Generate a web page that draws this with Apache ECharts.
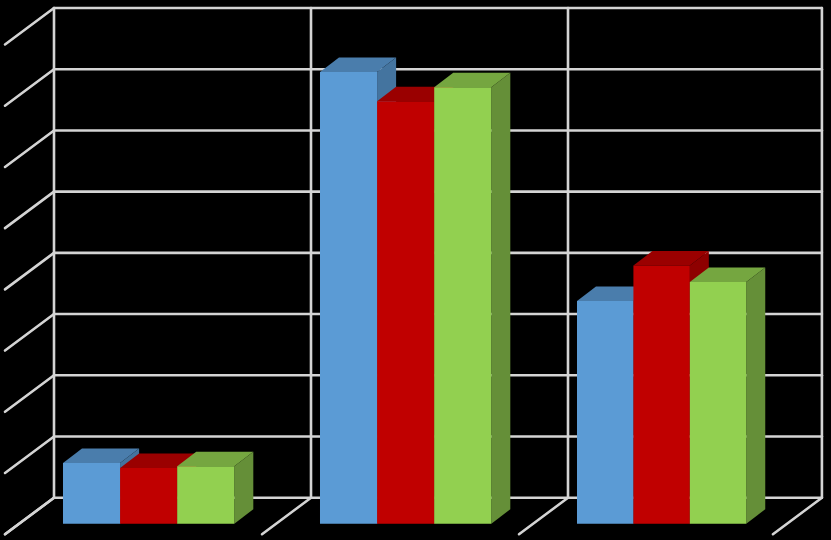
<!DOCTYPE html>
<html>
<head>
<meta charset="utf-8">
<style>html,body{margin:0;padding:0;background:#000}#c{width:831px;height:540px}</style>
<script src="https://cdn.jsdelivr.net/npm/echarts@6/dist/echarts.min.js"></script>
</head>
<body>
<div id="c"></div>
<script>
var categories = ['A', 'B', 'C'];
var boundaries = [0, 1, 2, 2.988];
var tickValues = [0, 10, 20, 30, 40, 50, 60, 70, 80];
var seriesA = [9.9, 73.8, 36.4];
var seriesB = [9.1, 69.0, 42.2];
var seriesC = [9.4, 71.3, 39.5];

var LINE = '#d4d4d4';
var LINE_W = 2.6;
var DEPTH_DX = 19, DEPTH_DY = -14.5, FRONT_DY = 26;
var WALL_DX = -49, WALL_DY = 36.5;

function barRenderer(slot, front, top, side) {
  return function (params, api) {
    var band = api.size([1, 0])[0];
    var i = api.value(0);
    var w = band * 0.2222 * (boundaries[i + 1] - boundaries[i]);
    var c0 = api.coord([i, 0]);
    var c1 = api.coord([i, api.value(1)]);
    var x0 = boundaryX(api, boundaries[i]) + band * 0.035 + slot * w;
    var x1 = x0 + w;
    var yb = c0[1] + FRONT_DY;
    var yt = c1[1] + FRONT_DY;
    function poly(points, color) {
      return { type: 'polygon', shape: { points: points }, style: { fill: color }, silent: true };
    }
    return {
      type: 'group',
      children: [
        poly([[x0, yt], [x1, yt], [x1 + DEPTH_DX, yt + DEPTH_DY], [x0 + DEPTH_DX, yt + DEPTH_DY]], top),
        poly([[x1, yt], [x1 + DEPTH_DX, yt + DEPTH_DY], [x1 + DEPTH_DX, yb + DEPTH_DY], [x1, yb]], side),
        poly([[x0, yt], [x1, yt], [x1, yb], [x0, yb]], front)
      ]
    };
  };
}

function seg(x1, y1, x2, y2) {
  return {
    type: 'line',
    shape: { x1: x1, y1: y1, x2: x2, y2: y2 },
    style: { stroke: LINE, lineWidth: LINE_W, lineCap: 'round' },
    silent: true
  };
}

function boundaryX(api, b) {
  var band = api.size([1, 0])[0];
  return api.coord([0, 0])[0] - band / 2 + b * band;
}

function wallRenderer(params, api) {
  var y = api.coord([0, api.value(0)])[1];
  var xl = boundaryX(api, boundaries[0]);
  var xr = boundaryX(api, boundaries[boundaries.length - 1]);
  return { type: 'group', children: [seg(xl, y, xr, y), seg(xl, y, xl + WALL_DX, y + WALL_DY)] };
}

function floorRenderer(params, api) {
  var x = boundaryX(api, api.value(0));
  var yb = api.coord([0, tickValues[0]])[1];
  var yt = api.coord([0, tickValues[tickValues.length - 1]])[1];
  return { type: 'group', children: [seg(x, yb, x, yt), seg(x, yb, x + WALL_DX, yb + WALL_DY)] };
}

function barSeries(name, values, slot, front, top, side) {
  return {
    name: name,
    type: 'custom',
    coordinateSystem: 'cartesian2d',
    renderItem: barRenderer(slot, front, top, side),
    encode: { x: 0, y: 1 },
    clip: false,
    data: values.map(function (v, i) { return [i, v]; })
  };
}

var chart = echarts.init(document.getElementById('c'), null, { renderer: 'canvas' });
chart.setOption({
  animation: false,
  backgroundColor: '#000000',
  grid: { left: 54, top: 8, width: 771, height: 489.7, containLabel: false },
  xAxis: {
    type: 'category',
    data: categories,
    boundaryGap: true,
    axisLabel: { show: false },
    axisTick: { show: false },
    axisLine: { show: false },
    splitLine: { show: false }
  },
  yAxis: {
    type: 'value',
    min: 0,
    max: 80,
    interval: 10,
    axisLabel: { show: false },
    axisTick: { show: false },
    axisLine: { show: false },
    splitLine: { show: false }
  },
  series: [
    { name: 'wall', type: 'custom', renderItem: wallRenderer, clip: false, silent: true,
      data: tickValues.map(function (v) { return [v]; }), encode: { y: 0 } },
    { name: 'floor', type: 'custom', renderItem: floorRenderer, clip: false, silent: true,
      data: boundaries.map(function (v) { return [v]; }), encode: { x: 0 } },
    barSeries('Series 1', seriesA, 0, '#5b9bd5', '#4a7dac', '#44749f'),
    barSeries('Series 2', seriesB, 1, '#c00000', '#9a0000', '#8e0000'),
    barSeries('Series 3', seriesC, 2, '#92d050', '#75a640', '#658f38')
  ]
});
</script>
</body>
</html>
